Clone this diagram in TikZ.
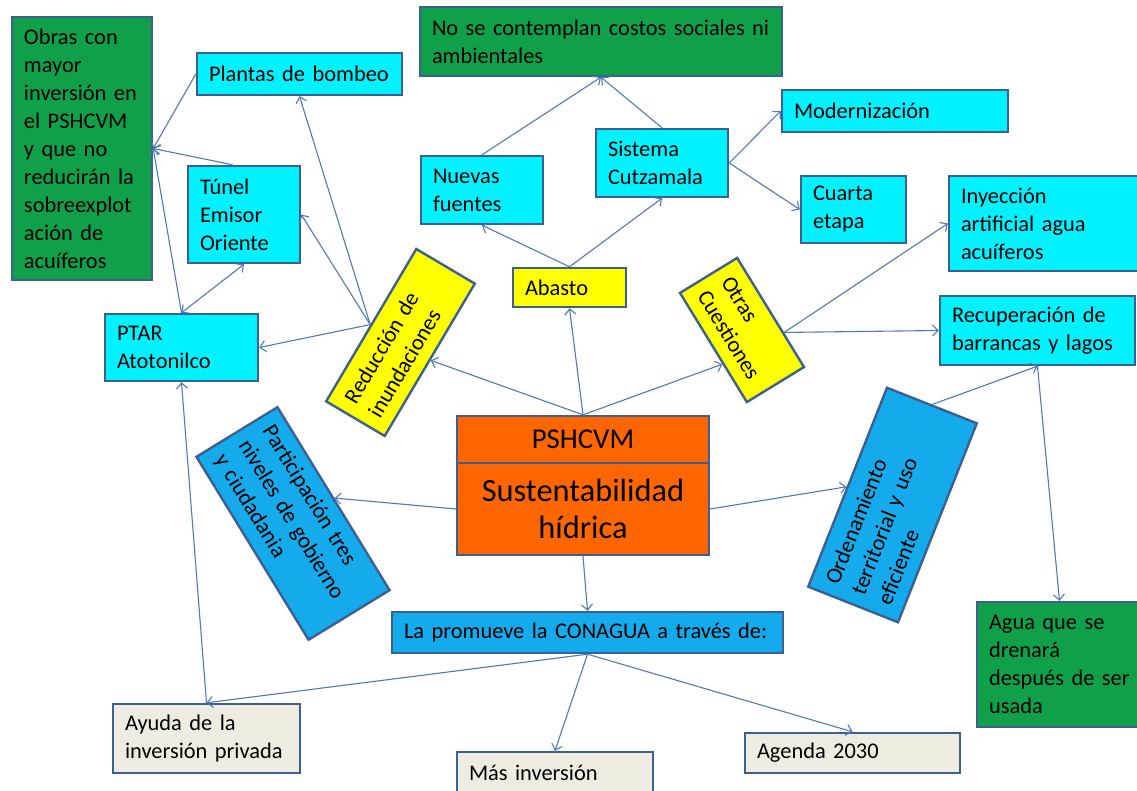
\documentclass[tikz,border=0pt]{standalone}
\usepackage{fontspec}
\setmainfont{Carlito}
\usetikzlibrary{arrows.meta,calc}
\definecolor{cy}{RGB}{0,242,255}
\definecolor{gr}{RGB}{16,160,74}
\definecolor{yel}{RGB}{255,255,0}
\definecolor{orng}{RGB}{255,102,0}
\definecolor{blu}{RGB}{20,170,235}
\definecolor{beig}{RGB}{238,236,225}
\definecolor{bord}{RGB}{60,96,145}
\definecolor{lineb}{RGB}{80,122,182}
\tikzset{
  bx/.style={draw=bord, line width=1.2pt, inner xsep=6pt, inner ysep=1pt, align=left,
    font=\fontsize{11.2}{14}\selectfont, text=black, anchor=center},
  conn/.style={draw=lineb, line width=0.55pt, -{Straight Barb[length=2.8pt,width=5.5pt]}},
  conntwo/.style={draw=lineb, line width=0.55pt, {Straight Barb[length=2.8pt,width=5.5pt]}-{Straight Barb[length=2.8pt,width=5.5pt]}}
}
\begin{document}
\begin{tikzpicture}[x=0.5pt,y=-0.5pt]
\useasboundingbox (0,0) rectangle (1137,791);
\clip (0,0) rectangle (1137,791);
\fill[white] (0,0) rectangle (1137,791);

% left group
\node[bx, fill=gr, minimum width=70pt, minimum height=131.5pt, text width=58pt] (obras) at (82,148.5)
  {Obras con\\mayor\\inversión en\\el PSHCVM\\y que no\\reducirán la\\sobreexplot\\ación de\\acuíferos};
\node[bx, fill=cy, minimum width=102.5pt, minimum height=21pt, text width=90.5pt] (plantas) at (299.5,74) {Plantas de bombeo};
\node[bx, fill=cy, minimum width=56pt, minimum height=48.5pt, text width=44pt] (tunel) at (244,214.5) {Túnel\\Emisor\\Oriente};
\node[bx, fill=cy, minimum width=76.5pt, minimum height=33.5pt, text width=64.5pt] (ptar) at (181.5,347.5) {PTAR\\Atotonilco};

% top group
\node[bx, fill=gr, minimum width=181pt, minimum height=34.5pt, text width=169pt] (nose) at (601,41.5) {No se contemplan costos sociales ni\\ambientales};
\node[bx, fill=cy, minimum width=61pt, minimum height=34pt, text width=49pt] (nuevas) at (482,190) {Nuevas\\fuentes};
\node[bx, fill=cy, minimum width=66pt, minimum height=34pt, text width=54pt] (cutz) at (662,163) {Sistema\\Cutzamala};
\node[bx, fill=yel, minimum width=56.5pt, minimum height=19.5pt, text width=44.5pt] (abasto) at (569.5,287.5) {Abasto};
\node[bx, fill=cy, minimum width=113pt, minimum height=21pt, text width=101pt] (mod) at (895,111) {Modernización};
\node[bx, fill=cy, minimum width=52.5pt, minimum height=33.5pt, text width=40.5pt] (cuarta) at (853.5,209.5) {Cuarta\\etapa};

% right group
\node[bx, fill=cy, minimum width=96.5pt, minimum height=47.5pt, text width=84.5pt] (iny) at (1045.5,223.5) {Inyección\\artificial agua\\acuíferos};
\node[bx, fill=cy, minimum width=97.5pt, minimum height=34.5pt, text width=85.5pt] (recup) at (1037.5,330.5) {Recuperación de\\barrancas y lagos};
\node[bx, fill=gr, minimum width=82.5pt, minimum height=62.5pt, text width=70.5pt] (agua) at (1059.5,664.5) {Agua que se\\drenará\\después de ser\\usada};

% rotated nodes
\node[bx, fill=yel, rotate=59.4, minimum width=88.5pt, minimum height=34pt, text width=76.5pt] (red) at (400.5,342.5) {Reducción de\\inundaciones};
\node[bx, fill=yel, rotate=-58.5, minimum width=64pt, minimum height=33.5pt, text width=52pt] (otras) at (742,330) {Otras\\Cuestiones};
\node[bx, fill=blu, rotate=-58.5, minimum width=107.3pt, minimum height=47.5pt, text width=95.3pt] (part) at (293,523.5) {Participación tres\\niveles de gobierno\\y ciudadania};
\node[bx, fill=blu, rotate=68.4, minimum width=107pt, minimum height=48.3pt, text width=95pt] (orden) at (892.5,505) {Ordenamiento\\territorial y uso\\eficiente};

% center
\node[bx, fill=orng, align=center, minimum width=126pt, minimum height=23.5pt, font=\fontsize{14.4}{17}\selectfont] (pshtop) at (583,439.5) {PSHCVM};
\node[bx, fill=orng, align=center, minimum width=126pt, minimum height=46pt, font=\fontsize{16.2}{18.5}\selectfont] (pshbot) at (583,509) {Sustentabilidad\\hídrica};

% bottom
\node[bx, fill=blu, minimum width=195.5pt, minimum height=20.5pt, text width=183.5pt] (conagua) at (587.5,632.5) {La promueve la CONAGUA a través de:};
\node[bx, fill=beig, minimum width=93.5pt, minimum height=34.5pt, text width=81.5pt] (ayuda) at (206.5,738.5) {Ayuda de la\\inversión privada};
\node[bx, fill=beig, minimum width=98pt, minimum height=21pt, text width=86pt] (mas) at (555,773) {Más inversión};
\node[bx, fill=beig, minimum width=107.5pt, minimum height=20pt, text width=95.5pt] (agenda) at (852.5,753) {Agenda 2030};

% connectors
\draw[conn] (plantas.west) -- (obras.east);
\draw[conn] ($(tunel.north west)!0.4!(tunel.north east)$) -- (obras.east);
\draw[conn] (ptar.north) -- (obras.east);
\draw[conntwo] (tunel.south) -- (ptar.north);
\draw[conn] (red.north) -- (plantas.south);
\draw[conn] (red.north) -- (tunel.east);
\draw[conn] (red.north) -- (ptar.east);
\draw[conn] (pshtop.north) -- (red.south);
\draw[conn] (pshtop.north) -- (abasto.south);
\draw[conn] (pshtop.north) -- ($(otras.south)!0.29!(otras.south east)$);
\draw[conn] (abasto.north) -- (nuevas.south);
\draw[conn] (abasto.north) -- (cutz.south);
\draw[conn] (nuevas.north) -- (nose.south);
\draw[conn] (cutz.north) -- (nose.south);
\draw[conn] (cutz.east) -- (mod.west);
\draw[conn] (cutz.east) -- (cuarta.west);
\draw[conn] ($(otras.north)!0.37!(otras.north east)$) -- (iny.west);
\draw[conn] ($(otras.north)!0.37!(otras.north east)$) -- (recup.west);
\draw[conn] (orden.east) -- (recup.south);
\draw[conn] (recup.south) -- (agua.north);
\draw[conn] (pshbot.east) -- (orden.north);
\draw[conn] (pshbot.west) -- (part.north);
\draw[conn] (pshbot.south) -- (conagua.north);
\draw[conn] (conagua.south) -- (ayuda.north);
\draw[conn] (conagua.south) -- (mas.north);
\draw[conn] (conagua.south) -- (agenda.north);
\draw[conn] (ayuda.north) -- (ptar.south);
\end{tikzpicture}
\end{document}
